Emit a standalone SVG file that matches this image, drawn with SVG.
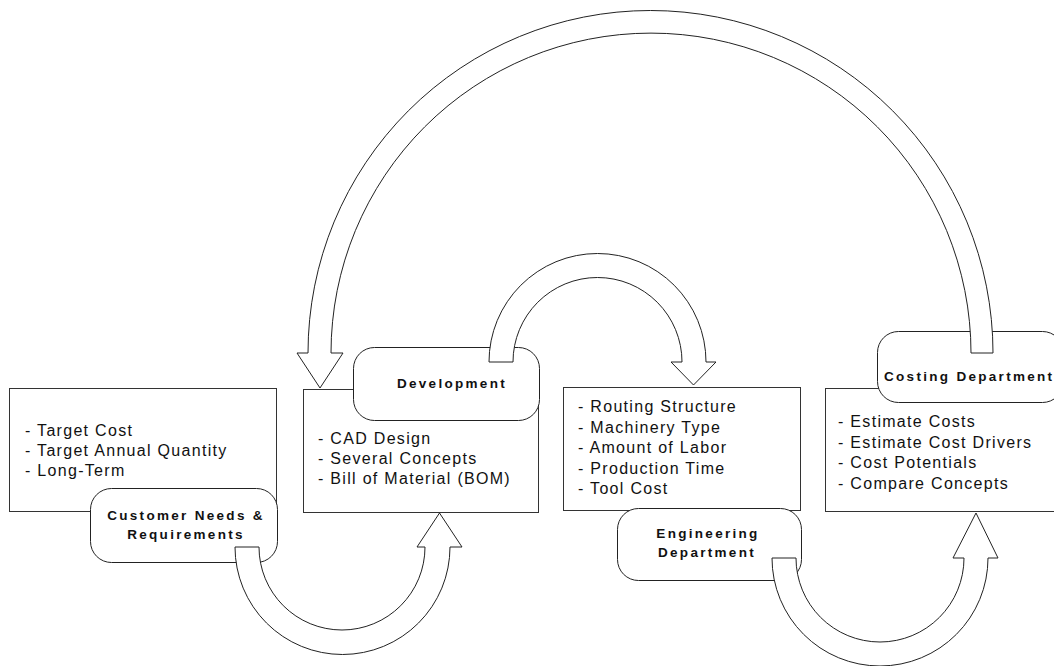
<svg xmlns="http://www.w3.org/2000/svg" width="1054" height="666" viewBox="0 0 1054 666">
<style>
.box{fill:#fff;stroke:#333;stroke-width:1}
.rr{fill:#fff;stroke:#222;stroke-width:1}
.arr{fill:#fff;stroke:#222;stroke-width:1;stroke-linejoin:miter}
.item{font-family:"Liberation Sans",Arial,sans-serif;font-size:16px;letter-spacing:1.3px;fill:#111}
.lbl{font-family:"Liberation Sans",Arial,sans-serif;font-size:13.5px;font-weight:bold;letter-spacing:2.3px;fill:#111;text-anchor:middle}
</style>
<rect width="1054" height="666" fill="#fff"/>
<g id="customer">
<rect class="box" x="9.5" y="388.5" width="267" height="123"/>
<text class="item" x="25" y="436">- Target Cost</text>
<text class="item" x="25" y="456">- Target Annual Quantity</text>
<text class="item" x="25" y="476">- Long-Term</text>
<rect class="rr" x="90.5" y="488.5" width="187" height="74" rx="21" ry="21"/>
<text class="lbl" x="186" y="520">Customer Needs &amp;</text>
<text class="lbl" x="186" y="539">Requirements</text>
</g>
<g id="development">
<rect class="box" x="303.5" y="389.5" width="235" height="123"/>
<text class="item" x="318" y="444">- CAD Design</text>
<text class="item" x="318" y="464">- Several Concepts</text>
<text class="item" x="318" y="484">- Bill of Material (BOM)</text>
<rect class="rr" x="353.5" y="347.5" width="186" height="73" rx="21" ry="21"/>
<text class="lbl" x="452" y="388">Development</text>
</g>
<g id="engineering">
<rect class="box" x="563.5" y="387.5" width="237" height="123"/>
<text class="item" x="578" y="412">- Routing Structure</text>
<text class="item" x="578" y="432.5">- Machinery Type</text>
<text class="item" x="578" y="453">- Amount of Labor</text>
<text class="item" x="578" y="473.5">- Production Time</text>
<text class="item" x="578" y="494">- Tool Cost</text>
<rect class="rr" x="617.5" y="508.5" width="184" height="72" rx="21" ry="21"/>
<text class="lbl" x="708" y="538">Engineering</text>
<text class="lbl" x="707" y="557">Department</text>
</g>
<g id="costing">
<rect class="box" x="825.5" y="388.5" width="237" height="123"/>
<text class="item" x="838" y="427">- Estimate Costs</text>
<text class="item" x="838" y="447.5">- Estimate Cost Drivers</text>
<text class="item" x="838" y="468">- Cost Potentials</text>
<text class="item" x="838" y="488.5">- Compare Concepts</text>
<rect class="rr" x="877.5" y="331.5" width="186" height="71" rx="21" ry="21"/>
<text class="lbl" x="884" y="381" style="text-anchor:start">Costing Department</text>
</g>
<g id="connectors">
<path class="arr" d="M 235 547 A 107.5 107.5 0 0 0 450 547 L 462 547 L 439.5 513 L 417 547 L 425 547 A 83 83 0 0 1 259 547 Z"/>
<path class="arr" d="M 489 362 A 108.5 108.5 0 0 1 706 362 L 716 362 L 693.5 385 L 671 362 L 682 362 A 84.5 84.5 0 0 0 513 362 Z"/>
<path class="arr" d="M 772 558 A 108 108 0 0 0 988 558 L 998 558 L 976 513 L 953 558 L 964 558 A 84 84 0 0 1 796 558 Z"/>
<path class="arr" d="M 993 353 A 342.5 342.5 0 0 0 308 353 L 297 353 L 320 388 L 343 353 L 331 353 A 320 320 0 0 1 971 353 Z"/>
</g>
</svg>
